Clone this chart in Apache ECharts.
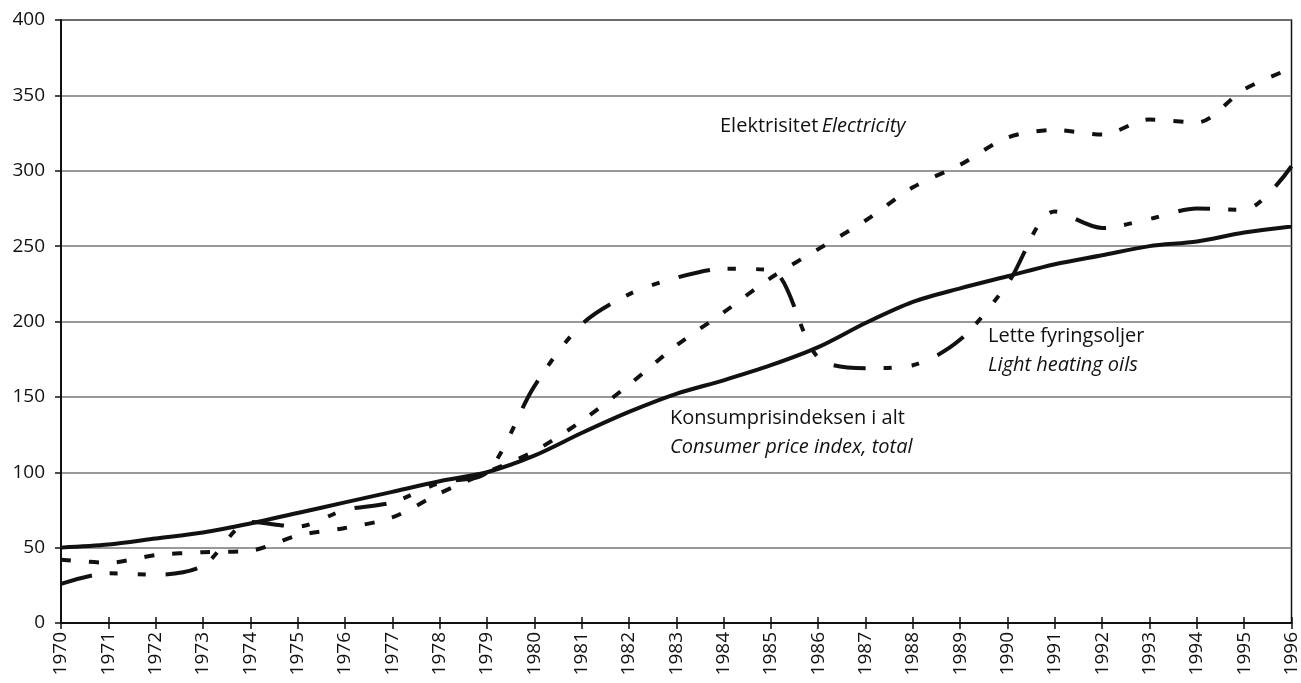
<!DOCTYPE html>
<html>
<head>
<meta charset="utf-8">
<script src="https://cdn.jsdelivr.net/npm/echarts@6/dist/echarts.min.js"></script>
<style>
    html, body { margin: 0; padding: 0; background: #fff; }
    #chart { width: 1301px; height: 683px; }
</style>
</head>
<body>
<div id="chart"></div>
<script>
// data
var years = ['1970', '1971', '1972', '1973', '1974', '1975', '1976', '1977', '1978', '1979',
    '1980', '1981', '1982', '1983', '1984', '1985', '1986', '1987', '1988', '1989',
    '1990', '1991', '1992', '1993', '1994', '1995', '1996']
var cpi = [50, 52, 56, 60, 66, 73, 80, 87, 94, 100,
    111, 126, 140, 152, 161, 171, 183, 199, 213, 222,
    230, 238, 244, 250, 253, 259, 263]
var electricity = [42, 40, 45, 47, 48, 58, 63, 70, 86, 100,
    114, 134, 158, 184, 206, 229, 248, 267, 289, 304,
    322, 327, 324, 334, 332, 354, 368]
var oils = [26, 33, 32, 38, 67, 64, 75, 80, 93, 100,
    157, 198, 218, 229, 235, 234, 176, 169, 171, 188,
    225, 273, 262, 268, 275, 274, 303]
var yTicks = [0, 50, 100, 150, 200, 250, 300, 350, 400]

var font = '"Open Sans", "Noto Sans", sans-serif'

function lineSeries(name, values, dash) {
    return {
        name: name,
        type: 'line',
        smooth: 0.3,
        symbol: 'none',
        lineStyle: {
            color: '#111',
            width: 4,
            type: dash,
            cap: 'butt'
        },
        data: values
    }
}

var option = {
    animation: false,
    backgroundColor: '#fff',
    grid: {
        left: 61,
        right: 5,
        top: 20,
        bottom: 60,
        show: true,
        borderColor: '#111',
        borderWidth: 1.5
    },
    xAxis: [{
        type: 'category',
        data: years,
        boundaryGap: false,
        axisLine: { lineStyle: { color: '#111', width: 2 } },
        axisTick: { show: true, length: 6, lineStyle: { color: '#111', width: 1.5 } },
        axisLabel: {
            rotate: 90,
            margin: 9,
            color: '#111',
            fontSize: 19,
            fontFamily: font
        },
        splitLine: { show: false }
    }, {
        // inner half of the crossing ticks
        type: 'category',
        data: years,
        position: 'bottom',
        boundaryGap: false,
        axisLine: { show: false },
        axisTick: { show: true, inside: true, length: 6, lineStyle: { color: '#111', width: 1.5 } },
        axisLabel: { show: false },
        splitLine: { show: false }
    }],
    yAxis: {
        type: 'value',
        min: 0,
        max: 400,
        interval: 50,
        axisLine: { show: true, lineStyle: { color: '#111', width: 2 } },
        axisTick: { show: true, length: 6, lineStyle: { color: '#111', width: 1.5 } },
        axisLabel: {
            margin: 16,
            color: '#111',
            fontSize: 19,
            fontFamily: font,
            formatter: function (v) { return yTicks.indexOf(v) >= 0 ? String(v) : '' }
        },
        splitLine: { show: true, lineStyle: { color: '#777', width: 1.5 } }
    },
    series: [
        lineSeries('Konsumprisindeksen i alt', cpi, 'solid'),
        lineSeries('Elektrisitet', electricity, [10, 18]),
        lineSeries('Lette fyringsoljer', oils, [32, 18, 8, 20, 8, 20])
    ],
    graphic: [{
        type: 'text',
        left: 720,
        top: 116,
        style: {
            text: '{r|Elektrisitet} {i|Electricity}',
            rich: {
                r: { fontSize: 20, fontFamily: font, fill: '#111' },
                i: { fontSize: 20, fontFamily: font, fontStyle: 'italic', fill: '#111' }
            }
        }
    }, {
        type: 'text',
        left: 988,
        top: 326,
        style: {
            text: '{r|Lette fyringsoljer}\n{i|Light heating oils}',
            rich: {
                r: { fontSize: 20, lineHeight: 29, fontFamily: font, fill: '#111' },
                i: { fontSize: 20, lineHeight: 29, fontFamily: font, fontStyle: 'italic', fill: '#111' }
            }
        }
    }, {
        type: 'text',
        left: 670,
        top: 408,
        style: {
            text: '{r|Konsumprisindeksen i alt}\n{i|Consumer price index, total}',
            rich: {
                r: { fontSize: 20, lineHeight: 29, fontFamily: font, fill: '#111' },
                i: { fontSize: 20, lineHeight: 29, fontFamily: font, fontStyle: 'italic', fill: '#111' }
            }
        }
    }]
}

var chart = echarts.init(document.getElementById('chart'))
chart.setOption(option)
</script>
</body>
</html>
